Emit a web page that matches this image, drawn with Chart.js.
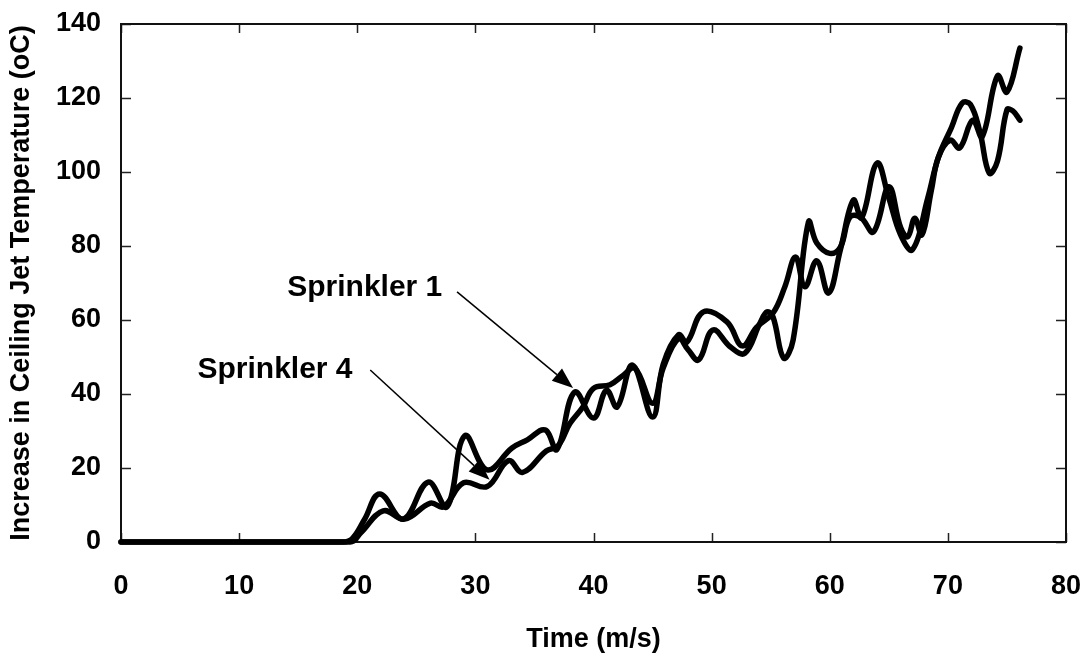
<!DOCTYPE html>
<html>
<head>
<meta charset="utf-8">
<script src="https://cdn.jsdelivr.net/npm/chart.js@4.4.1/dist/chart.umd.min.js"></script>
<style>
    html, body { margin: 0; padding: 0; background: #fff; }
    #wrap { width: 1087px; height: 660px; }
</style>
</head>
<body>
<div id="wrap"><canvas id="chart"></canvas></div>
<script>
// ** Datos **
const xTicks = [0, 10, 20, 30, 40, 50, 60, 70, 80];
const yTicks = [0, 20, 40, 60, 80, 100, 120, 140];

const timeS1 = [0, 18.8, 19.6, 20.6, 21.9, 23.9, 26, 27.6, 29.1, 31, 33.1, 34.4, 35.9, 36.9, 38.4, 40, 41.1, 42, 43.3, 45, 45.9, 47.2, 47.9, 49.3, 51.3, 52.6, 53.8, 55.2, 56.2, 57.1, 57.9, 58.9, 59.9, 60.9, 62, 62.7, 64, 65, 66, 67, 68.3, 69.2, 70.3, 71.2, 71.9, 72.7, 73.5, 74.2, 75, 75.5, 76.1];
const tempS1 = [0, 0, 1, 6, 13, 6.2, 16.2, 9.5, 28.7, 19.5, 25.4, 27.6, 30.3, 25, 40.5, 33.5, 41, 36.5, 47.8, 33.8, 48, 56, 54, 62.2, 59.5, 53, 58, 61.9, 69, 77, 69, 76, 67.3, 79, 92.4, 87.6, 102.4, 93, 83, 79, 93, 104, 112, 118.6, 118.3, 111, 99.7, 103, 116.8, 116.5, 114];

const timeS4 = [0, 19.4, 20.3, 22.2, 24, 26.2, 27.3, 29, 31, 32.8, 34, 36, 37, 38, 39.1, 40, 41.4, 42.5, 43.5, 45, 45.9, 47.2, 48, 48.9, 50.1, 51.6, 52.8, 54.1, 54.7, 55.2, 56.1, 56.9, 58.2, 58.9, 60, 60.9, 61.7, 62.6, 63.7, 65, 66, 66.6, 67.2, 67.8, 68.6, 69.2, 70.2, 71, 72.1, 72.9, 74.2, 75, 76.1];
const tempS4 = [0, 0, 2.5, 8.4, 6.2, 10.5, 9.5, 16, 15, 22, 18.8, 24.6, 26, 32, 36.5, 41.5, 42.5, 45, 47, 37.5, 47, 55, 52, 49.2, 57.3, 52.7, 51, 59.2, 62.2, 60.8, 49.7, 54.6, 86.5, 80.8, 78, 79.7, 87.8, 87.8, 83.8, 96, 85, 82.5, 87.5, 83, 95, 104, 108.6, 106.5, 114, 109.5, 126, 121.6, 133.5];

const seriesNames = ['Sprinkler 1', 'Sprinkler 4'];

const FONT = '"Liberation Sans", Arial, sans-serif';

// Etiquetas con flecha, en unidades de datos
const callouts = [
    { text: seriesNames[0], textAt: [27.2, 68.6], from: [28.45, 67.6], to: [38.27, 41.6] },
    { text: seriesNames[1], textAt: [19.6, 46.5], from: [21.1, 46.5], to: [31.2, 16.8] }
];

const toPoints = (xs, ys) => xs.map((t, i) => ({ x: t, y: ys[i] }));

const lineStyle = {
    showLine: true,
    borderColor: '#000',
    backgroundColor: '#000',
    borderWidth: 5.5,
    pointRadius: 0,
    tension: 0.4,
    clip: false,
    borderJoinStyle: 'round',
    borderCapStyle: 'round'
};

// marco y marcas de graduacion hacia dentro
const frameTicks = {
    id: 'frameTicks',
    beforeDatasetsDraw(chart) {
        const { ctx, chartArea: a, scales: { x, y } } = chart;
        ctx.save();
        ctx.strokeStyle = '#222';
        ctx.lineWidth = 1.5;
        ctx.beginPath();
        xTicks.forEach(v => {
            const px = Math.round(x.getPixelForValue(v)) + 0.5;
            ctx.moveTo(px, a.bottom); ctx.lineTo(px, a.bottom - 9);
            ctx.moveTo(px, a.top); ctx.lineTo(px, a.top + 9);
        });
        yTicks.forEach(v => {
            const py = Math.round(y.getPixelForValue(v)) + 0.5;
            ctx.moveTo(a.left, py); ctx.lineTo(a.left + 10, py);
            ctx.moveTo(a.right, py); ctx.lineTo(a.right - 10, py);
        });
        ctx.stroke();
        ctx.lineWidth = 2;
        ctx.strokeStyle = '#111';
        ctx.strokeRect(a.left, a.top, a.right - a.left, a.bottom - a.top);
        ctx.restore();
    },
    afterDatasetsDraw(chart) {
        const { ctx, scales: { x, y } } = chart;
        ctx.save();
        ctx.fillStyle = '#000';
        ctx.strokeStyle = '#000';
        ctx.font = 'bold 30px ' + FONT;
        ctx.textAlign = 'right';
        ctx.textBaseline = 'middle';
        callouts.forEach(c => {
            ctx.fillText(c.text, x.getPixelForValue(c.textAt[0]), y.getPixelForValue(c.textAt[1]));
            const x0 = x.getPixelForValue(c.from[0]), y0 = y.getPixelForValue(c.from[1]);
            const x1 = x.getPixelForValue(c.to[0]), y1 = y.getPixelForValue(c.to[1]);
            const ang = Math.atan2(y1 - y0, x1 - x0);
            const hl = 21, hw = 8;
            const bx = x1 - hl * Math.cos(ang), by = y1 - hl * Math.sin(ang);
            ctx.lineWidth = 1.5;
            ctx.beginPath();
            ctx.moveTo(x0, y0);
            ctx.lineTo(bx, by);
            ctx.stroke();
            ctx.beginPath();
            ctx.moveTo(x1, y1);
            ctx.lineTo(bx + hw * Math.sin(ang), by - hw * Math.cos(ang));
            ctx.lineTo(bx - hw * Math.sin(ang), by + hw * Math.cos(ang));
            ctx.closePath();
            ctx.fill();
        });
        ctx.restore();
    }
};

new Chart(document.getElementById('chart'), {
    type: 'scatter',
    data: {
        datasets: [
            { label: seriesNames[0], data: toPoints(timeS1, tempS1), ...lineStyle },
            { label: seriesNames[1], data: toPoints(timeS4, tempS4), ...lineStyle }
        ]
    },
    options: {
        responsive: true,
        maintainAspectRatio: false,
        animation: false,
        devicePixelRatio: 1,
        layout: { padding: { left: 0, top: 24, right: 21, bottom: 0 } },
        plugins: {
            legend: { display: false },
            tooltip: { enabled: false }
        },
        scales: {
            x: {
                type: 'linear',
                min: 0, max: 80,
                afterFit: s => { s.height = 118; s.paddingLeft = 0; s.paddingRight = 0; },
                afterBuildTicks: s => { s.ticks = xTicks.map(v => ({ value: v })); },
                grid: { display: false, drawTicks: false },
                border: { display: false },
                ticks: { color: '#000', padding: 28, font: { family: FONT, size: 27, weight: 'bold' } },
                title: { display: true, text: 'Time (m/s)', color: '#000', padding: { top: 18 }, font: { family: FONT, size: 27, weight: 'bold' } }
            },
            y: {
                type: 'linear',
                min: 0, max: 140,
                afterFit: s => { s.width = 121; s.paddingTop = 0; s.paddingBottom = 0; },
                afterBuildTicks: s => { s.ticks = yTicks.map(v => ({ value: v })); },
                grid: { display: false, drawTicks: false },
                border: { display: false },
                ticks: { color: '#000', padding: 20, font: { family: FONT, size: 27, weight: 'bold' } },
                title: { display: true, text: 'Increase in Ceiling Jet Temperature (oC)', color: '#000', padding: { top: 5, bottom: 0 }, font: { family: FONT, size: 27, weight: 'bold' } }
            }
        }
    },
    plugins: [frameTicks]
});
</script>
</body>
</html>
